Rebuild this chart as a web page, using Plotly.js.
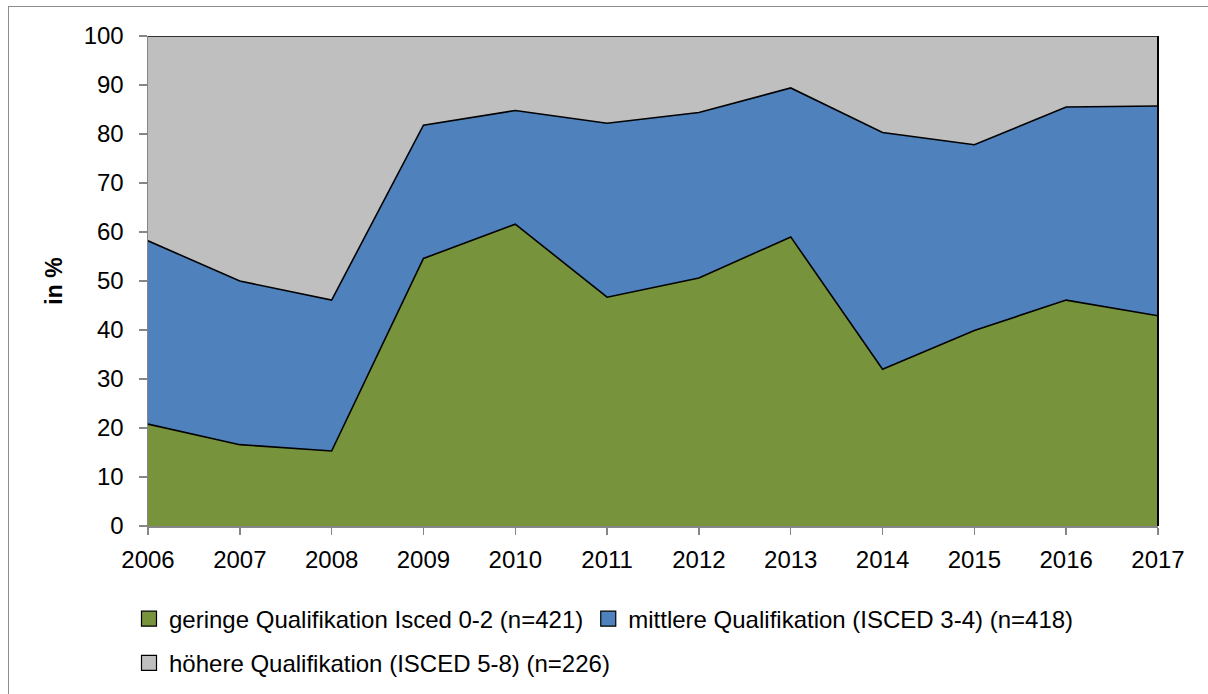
<!DOCTYPE html>
<html>
<head>
<meta charset="utf-8">
<script src="https://cdn.plot.ly/plotly-3.0.1.min.js"></script>
<style>
html,body{margin:0;padding:0;overflow:hidden;background:#fff;}
#wrap{position:relative;width:1208px;height:694px;}
#chart{position:absolute;left:0;top:0;width:1208px;height:694px;}
#frame{position:absolute;left:8px;top:6px;width:1400px;height:900px;border:1px solid #8c8c8c;pointer-events:none;z-index:5;}
</style>
</head>
<body>
<div id="wrap"><div id="chart"></div><div id="frame"></div></div>
<script>
const years = [2006,2007,2008,2009,2010,2011,2012,2013,2014,2015,2016,2017];
const geringe  = [20.8,16.6,15.3,54.6,61.6,46.7,50.6,59.0,32.0,39.9,46.1,42.9];
const mittlere = [37.4,33.4,30.8,27.2,23.2,35.5,33.8,30.4,48.3,37.9,39.4,42.8];
const hoehere  = [41.8,50.0,53.9,18.2,15.2,17.8,15.6,10.6,19.7,22.2,14.5,14.3];
const names = [
  'geringe Qualifikation Isced 0-2 (n=421)',
  'mittlere Qualifikation (ISCED 3-4) (n=418)',
  'höhere Qualifikation (ISCED 5-8) (n=226)'
];
const colors = ['#77933C','#4F81BD','#BFBFBF'];
const series = [geringe, mittlere, hoehere];
const FONT = 'Liberation Sans, Arial, sans-serif';

const traces = series.map((s,i)=>({
  type:'scatter', mode:'lines', x:years, y:s, name:names[i],
  stackgroup:'one', fillcolor:colors[i],
  line:{color:'#000', width:1.6, shape:'linear'},
  showlegend:false, hoverinfo:'x+y+name'
}));
// legend entries (square swatches)
series.forEach((s,i)=>{
  traces.push({
    type:'scatter', mode:'markers', x:[null], y:[null], name:names[i],
    marker:{symbol:'square', size:15, color:colors[i], line:{color:'#000', width:1.2}},
    showlegend:true, legend: i<2 ? 'legend' : 'legend2', hoverinfo:'skip'
  });
});

const layout = {
  width:1208, height:694,
  margin:{l:148, r:50, t:36, b:168, autoexpand:false},
  paper_bgcolor:'#fff', plot_bgcolor:'#fff',
  font:{family:FONT, size:24, color:'#000'},
  xaxis:{
    range:[2006,2017], tickmode:'array', tickvals:years, ticktext:years.map(String),
    showgrid:false, zeroline:false, showline:true, linecolor:'#868686', linewidth:1.5,
    ticks:'outside', ticklen:7, tickcolor:'#868686', tickwidth:1.5,
    tickfont:{family:FONT, size:24, color:'#000'}, ticklabelstandoff:5
  },
  yaxis:{
    range:[0,100], tickmode:'linear', tick0:0, dtick:10,
    showgrid:false, zeroline:false, showline:true, linecolor:'#868686', linewidth:1.5,
    ticks:'outside', ticklen:8, tickcolor:'#868686', tickwidth:1.5,
    tickfont:{family:FONT, size:24, color:'#000'}, ticklabelstandoff:10,
    title:{text:'<b>in %</b>', font:{family:FONT, size:23, color:'#000'}, standoff:14}
  },
  legend:{
    orientation:'h', x:0.0 - 19/1010, xanchor:'left', y:-0.19, yanchor:'middle',
    font:{family:FONT, size:24, color:'#000'}, bgcolor:'rgba(0,0,0,0)',
    itemwidth:30, traceorder:'normal'
  },
  legend2:{
    orientation:'h', x:0.0 - 19/1010, xanchor:'left', y:-0.28, yanchor:'middle',
    font:{family:FONT, size:24, color:'#000'}, bgcolor:'rgba(0,0,0,0)',
    itemwidth:30, traceorder:'normal'
  },
  shapes:[
    {type:'line', xref:'paper', yref:'paper', x0:1, x1:1, y0:0, y1:1, line:{color:'#000', width:2}}
  ],
  showlegend:true
};
Plotly.newPlot('chart', traces, layout, {displayModeBar:false, staticPlot:true});
</script>
</body>
</html>
